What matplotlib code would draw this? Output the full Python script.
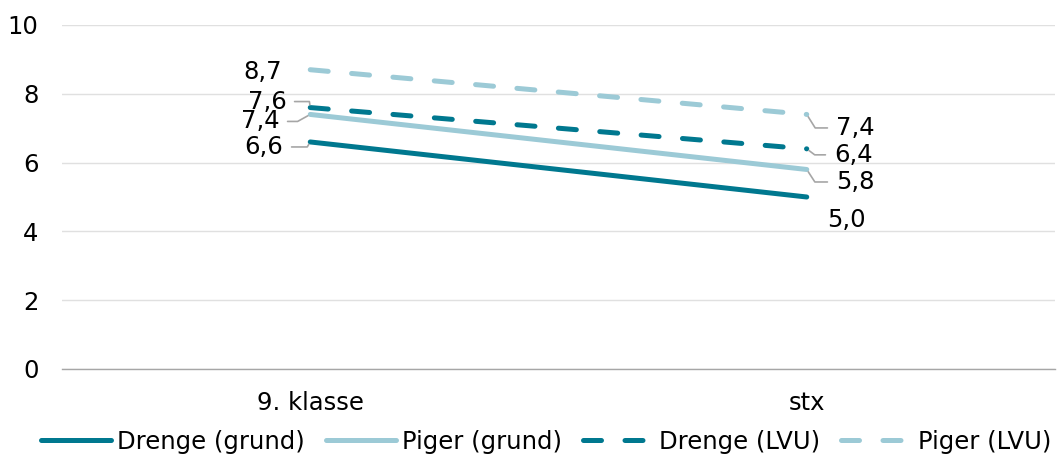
import matplotlib
matplotlib.use("Agg")
import matplotlib.pyplot as plt

categories = ["9. klasse", "stx"]
drenge_grund = [6.6, 5.0]
piger_grund = [7.4, 5.8]
drenge_lvu = [7.6, 6.4]
piger_lvu = [8.7, 7.4]
series_names = ["Drenge (grund)", "Piger (grund)", "Drenge (LVU)", "Piger (LVU)"]
yticks = [0, 2, 4, 6, 8, 10]

dark = "#00788F"
light = "#9CCAD6"
lead = "#A6A6A6"
FS = 17.5

plt.rcParams['font.family'] = ['DejaVu Sans']
fig = plt.figure(figsize=(10.58, 4.55), dpi=100)
ax = fig.add_axes([62/1058, 1-369/455, (1055-62)/1058, (369-25)/455])

x = list(range(len(categories)))
lw = 3.6
dash = (3.6, 4.7)
ax.plot(x, drenge_grund, color=dark, lw=lw, solid_capstyle='round', label=series_names[0], zorder=3)
ax.plot(x, piger_grund, color=light, lw=lw, solid_capstyle='round', label=series_names[1], zorder=3)
ax.plot(x, drenge_lvu, color=dark, lw=lw, dashes=dash, dash_capstyle='round', label=series_names[2], zorder=3)
ax.plot(x, piger_lvu, color=light, lw=lw, dashes=dash, dash_capstyle='round', label=series_names[3], zorder=3)

ax.set_xlim(-0.5, 1.5)
ax.set_ylim(0, 10)
ax.set_yticks(yticks)
ax.set_yticklabels([str(v) for v in yticks], fontsize=FS)
ax.set_xticks(x)
ax.set_xticklabels(categories, fontsize=FS)
ax.tick_params(axis='both', length=0, colors='black')
ax.tick_params(axis='y', pad=17)
ax.tick_params(axis='x', pad=15.5)
for s in ['top', 'right', 'left']:
    ax.spines[s].set_visible(False)
ax.spines['bottom'].set_color('#A6A6A6')
ax.spines['bottom'].set_linewidth(1.0)
ax.yaxis.grid(True, color='#E0E0E0', lw=1.0)
ax.set_axisbelow(True)

def fmt(v):
    return f"{v:.1f}".replace(".", ",")

# left labels: (value, dx px, dy px, angleB or None)
left = [(piger_lvu[0], -28, -2, None),
        (drenge_lvu[0], -24, 6, 98),
        (piger_grund[0], -31, -7, 29),
        (drenge_grund[0], -27, -5, 59)]
for v, dx, dy, ang in left:
    ax.annotate(fmt(v), xy=(0, v), xytext=(dx, dy), textcoords='offset pixels',
                ha='right', va='center', fontsize=FS,
                arrowprops=dict(arrowstyle='-', color=lead, lw=1.2, shrinkA=4, shrinkB=2,
                                connectionstyle=f'angle,angleA=0,angleB={ang},rad=0') if ang is not None else None)

right = [(piger_lvu[1], 29, -13.5, -58),
         (drenge_lvu[1], 27, -6, -37),
         (piger_grund[1], 29, -12.5, -57),
         (drenge_grund[1], 20, -23, None)]
for v, dx, dy, ang in right:
    ax.annotate(fmt(v), xy=(1, v), xytext=(dx, dy), textcoords='offset pixels',
                ha='left', va='center', fontsize=FS,
                arrowprops=dict(arrowstyle='-', color=lead, lw=1.2, shrinkA=4, shrinkB=2,
                                connectionstyle=f'angle,angleA=0,angleB={ang},rad=0') if ang is not None else None)

fig.legend(loc='lower center', bbox_to_anchor=(0.516, -0.035), ncol=4, frameon=False,
           fontsize=FS, handlelength=2.9, columnspacing=0.85, handletextpad=0.25,
           borderpad=0.2)

fig.savefig("out.png", dpi=100)
